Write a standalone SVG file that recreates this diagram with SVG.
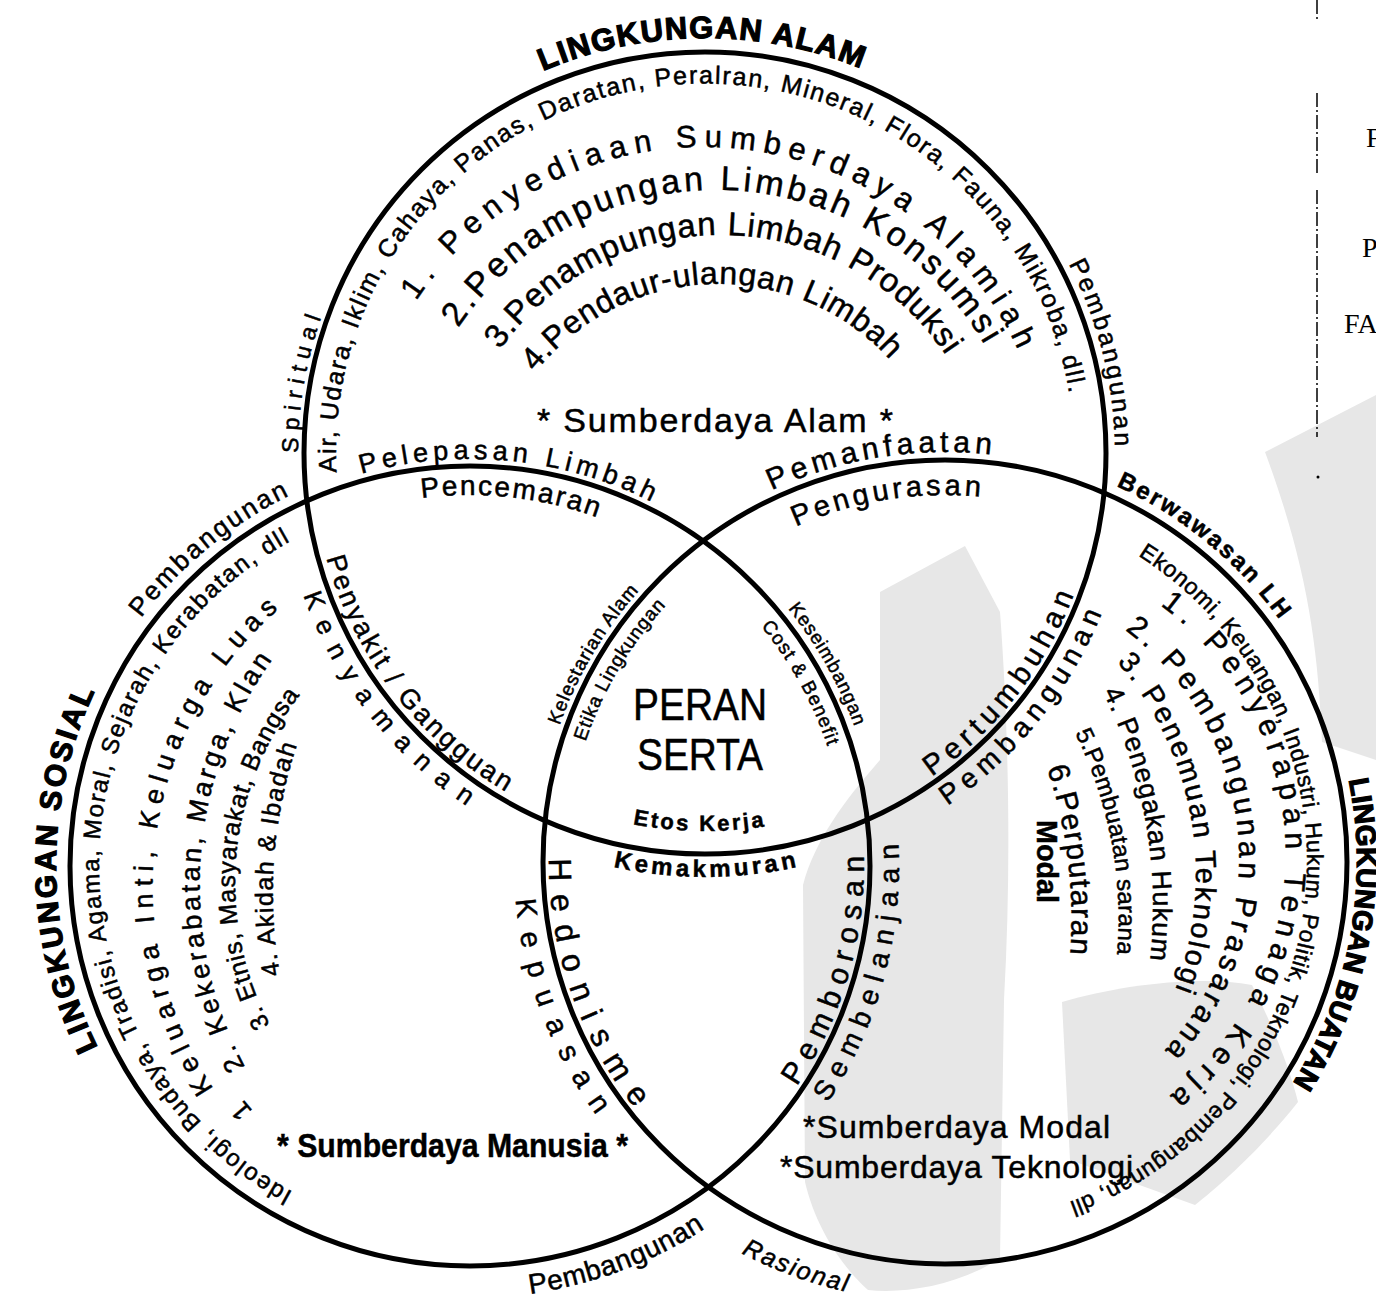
<svg xmlns="http://www.w3.org/2000/svg" width="1376" height="1302" viewBox="0 0 1376 1302">
<style>
.c{fill:none;stroke:#000;stroke-width:5}
.wm{fill:#e7e7e7;stroke:none}
text{font-family:"Liberation Sans",Arial,sans-serif;fill:#000;stroke:#000;stroke-width:0.5}
.b{font-weight:bold}
.h{stroke-width:1.2}
.i{font-style:italic}
.s{font-family:"Liberation Serif","Times New Roman",serif;stroke-width:0}
</style>
<defs>
<path id="p-alam-title" d="M542.9,71.0 A415,415 0 0 1 860.5,68.2"/>
<path id="p-alam-list" d="M336.5,472.3 A369,369 0 0 1 1069.2,393.4"/>
<path id="p-alam-r1" d="M416.1,301.1 A345,345 0 0 1 1017.9,350.0"/>
<path id="p-alam-r2" d="M458.1,328.0 A310,310 0 0 1 984.5,345.0"/>
<path id="p-alam-r3" d="M500.1,349.8 A270,270 0 0 1 945.4,354.8"/>
<path id="p-alam-r4" d="M535.4,372.3 A233,233 0 0 1 890.1,359.9"/>
<path id="p-pemb-r" d="M1068.7,263.7 A410,410 0 0 1 1114.9,445.8"/>
<path id="p-berwawasan" d="M1116.3,486.2 A413,413 0 0 1 1279.1,619.2"/>
<path id="p-spiritual" d="M298,453 A407,407 0 0 1 321.4,317.1"/>
<path id="p-pelepasan" d="M361.2,473.8 A407,407 0 0 1 651.6,501.8"/>
<path id="p-pencemaran" d="M421.6,498.2 A371,371 0 0 1 596.9,517.4"/>
<path id="p-pemanfaatan" d="M771.7,490.4 A410,410 0 0 1 991.4,454.6"/>
<path id="p-pengurasan" d="M795.7,526.7 A367,367 0 0 1 980.2,496.7"/>
<path id="p-penyakit" d="M326.3,558.0 A393,393 0 0 0 505.5,791.6"/>
<path id="p-kenyamanan" d="M303.4,595.2 A426,426 0 0 0 466.8,806.2"/>
<path id="p-kelestarian" d="M559.5,725.5 A409,409 0 0 1 638.7,591.0"/>
<path id="p-etika" d="M585.6,741.7 A379,379 0 0 1 665.6,606.0"/>
<path id="p-keseimbangan" d="M787.9,608.6 A409,409 0 0 1 854.3,726.1"/>
<path id="p-cost" d="M760.9,626.2 A377,377 0 0 1 827.5,746.4"/>
<path id="p-etos" d="M632.9,824.1 A378,378 0 0 0 764.1,826.4"/>
<path id="p-kemakmuran" d="M613.2,866.9 A424,424 0 0 0 796.8,866.9"/>
<path id="p-hedonisme" d="M549.0,858.5 A396,396 0 0 0 635.1,1108.5"/>
<path id="p-kepuasan" d="M515.6,899.6 A431,431 0 0 0 596.3,1115.3"/>
<path id="p-pemborosan" d="M796.6,1086.3 A394,394 0 0 0 863.9,855.7"/>
<path id="p-sembelanjaan" d="M827.7,1102.8 A429,429 0 0 0 898.4,843.5"/>
<path id="p-pertumbuhan" d="M931.6,776.6 A395,395 0 0 0 1073.8,594.6"/>
<path id="p-pemb-lr" d="M947.4,805.7 A428,428 0 0 0 1101.8,613.3"/>
<path id="p-ekonomi" d="M1137.9,555.7 A362,362 0 0 1 1068.8,1202.2"/>
<path id="p-buatan-r1" d="M1160.2,605.1 A309.6,309.6 0 0 1 1170.0,1095.3"/>
<path id="p-buatan-r2" d="M1125,630 A285.3,285.3 0 0 1 1165,1050"/>
<path id="p-buatan-r3" d="M1117,662 A326.5,326.5 0 0 1 1175,990"/>
<path id="p-buatan-r4" d="M1103,692 A481,481 0 0 1 1150,960"/>
<path id="p-buatan-r5" d="M1075,733 A415.6,415.6 0 0 1 1117,955"/>
<path id="p-buatan-r6" d="M1047,768 A468,468 0 0 1 1070,955"/>
<path id="p-sosial-title" d="M97.9,1047.5 A414,414 0 0 1 94.8,691.0"/>
<path id="p-sosial-list" d="M293.0,1192.0 A371,371 0 0 1 290.1,541.5"/>
<path id="p-sosial-r1" d="M213.5,1088.6 A367,367 0 0 1 278.7,609.0"/>
<path id="p-sosial-r2" d="M245,1067 A387,387 0 0 1 272,660"/>
<path id="p-sosial-r3" d="M270,1025 A305.5,305.5 0 0 1 300,695"/>
<path id="p-sosial-r4" d="M280,975 A467,467 0 0 1 297,745"/>
<path id="p-pemb-l" d="M141.0,618.1 A412,412 0 0 1 289.4,495.7"/>
<path id="p-pemb-b" d="M530.1,1293.8 A432,432 0 0 0 705.3,1228.3"/>
<path id="p-rasional" d="M741.4,1253.2 A441,441 0 0 0 845.8,1291.7"/>
<path id="p-buatan-title" d="M1348.7,779.9 A412,412 0 0 1 1292.5,1083.4"/>
</defs>

<g id="watermark">
<path class="wm" d="M1265,452 L1376,395 L1376,760 L1322,742 C1318,640 1305,560 1265,452 Z"/>
<path class="wm" d="M880,592 L965,546 L1000,612 C1008,720 1012,860 1004,1000 L1000,1258 C960,1285 905,1294 868,1290 C840,1265 815,1225 805,1182 L803,885 C815,840 845,800 880,760 Z"/>
<path class="wm" d="M1062,1002 C1120,985 1200,975 1252,985 C1275,1030 1290,1070 1298,1102 C1260,1150 1220,1185 1195,1205 L1070,1160 Z"/>
</g>

<g id="lingkungan-alam">
<circle class="c" cx="705" cy="453" r="401"/>
<text class="b h" font-size="31"><textPath href="#p-alam-title" textLength="326" lengthAdjust="spacing">LINGKUNGAN ALAM</textPath></text>
<text font-size="25"><textPath href="#p-alam-list" textLength="1119" lengthAdjust="spacing">Air, Udara, Iklim, Cahaya, Panas, Daratan, Peralran, Mineral, Flora, Fauna, Mikroba, dll.</textPath></text>
<text font-size="31"><textPath href="#p-alam-r1" textLength="735" lengthAdjust="spacing">1. Penyediaan Sumberdaya Alamiah</textPath></text>
<text font-size="34"><textPath href="#p-alam-r2" textLength="629" lengthAdjust="spacing">2.Penampungan Limbah Konsumsi</textPath></text>
<text font-size="33"><textPath href="#p-alam-r3" textLength="524" lengthAdjust="spacing">3.Penampungan Limbah Produksi</textPath></text>
<text font-size="32"><textPath href="#p-alam-r4" textLength="403" lengthAdjust="spacing">4.Pendaur-ulangan Limbah</textPath></text>
<text x="537" y="432" font-size="34" textLength="356" lengthAdjust="spacing">* Sumberdaya Alam *</text>
<text font-size="25"><textPath href="#p-pemb-r" textLength="190" lengthAdjust="spacing">Pembangunan</textPath></text>
<text font-size="23"><textPath href="#p-spiritual" textLength="138" lengthAdjust="spacing">Spiritual</textPath></text>
</g>

<g id="lingkungan-sosial">
<circle class="c" cx="470" cy="866" r="400"/>
<text class="b h" font-size="30"><textPath href="#p-sosial-title" textLength="368" lengthAdjust="spacing">LINGKUNGAN SOSIAL</textPath></text>
<text font-size="24"><textPath href="#p-sosial-list" textLength="793" lengthAdjust="spacing">Ideologi, Budaya, Tradisi, Agama, Moral, Sejarah, Kerabatan, dll</textPath></text>
<text font-size="27" transform="translate(253,1111) rotate(-130)">1</text>
<text font-size="27"><textPath href="#p-sosial-r1" textLength="528" lengthAdjust="spacing">Keluarga Inti, Keluarga Luas</textPath></text>
<text font-size="27"><textPath href="#p-sosial-r2" textLength="430" lengthAdjust="spacing">2. Kekerabatan, Marga, Klan</textPath></text>
<text font-size="25"><textPath href="#p-sosial-r3" textLength="350" lengthAdjust="spacing">3. Etnis, Masyarakat, Bangsa</textPath></text>
<text font-size="25"><textPath href="#p-sosial-r4" textLength="233" lengthAdjust="spacing">4. Akidah &amp; Ibadah</textPath></text>
<text font-size="26"><textPath href="#p-pemb-l" textLength="194" lengthAdjust="spacing">Pembangunan</textPath></text>
<text class="b" x="277" y="1157" font-size="34" textLength="351" lengthAdjust="spacingAndGlyphs">* Sumberdaya Manusia *</text>
<text font-size="28"><textPath href="#p-pemb-b" textLength="188" lengthAdjust="spacing">Pembangunan</textPath></text>
</g>

<g id="lingkungan-buatan">
<circle class="c" cx="945" cy="862" r="402"/>
<text class="b h" font-size="28"><textPath href="#p-buatan-title" textLength="316" lengthAdjust="spacing">LINGKUNGAN BUATAN</textPath></text>
<text class="b" font-size="24"><textPath href="#p-berwawasan" textLength="213" lengthAdjust="spacing">Berwawasan LH</textPath></text>
<text font-size="23"><textPath href="#p-ekonomi" textLength="807" lengthAdjust="spacing">Ekonomi, Keuangan, Industri, Hukum, Politik, Teknologi, Pembangunan, dll</textPath></text>
<text font-size="30"><textPath href="#p-buatan-r1" textLength="566" lengthAdjust="spacing">1. Penyerapan Tenaga Kerja</textPath></text>
<text font-size="30"><textPath href="#p-buatan-r2" textLength="475" lengthAdjust="spacing">2. Pembangunan Prasarana</textPath></text>
<text font-size="29"><textPath href="#p-buatan-r3" textLength="349" lengthAdjust="spacing">3. Penemuan Teknologi</textPath></text>
<text font-size="27"><textPath href="#p-buatan-r4" textLength="276" lengthAdjust="spacing">4. Penegakan Hukum</textPath></text>
<text font-size="24"><textPath href="#p-buatan-r5" textLength="228" lengthAdjust="spacing">5.Pembuatan sarana</textPath></text>
<text font-size="30"><textPath href="#p-buatan-r6" textLength="189" lengthAdjust="spacing">6.Perputaran</textPath></text>
<text class="b" font-size="30" transform="translate(1037,820) rotate(90)" textLength="83" lengthAdjust="spacingAndGlyphs">Modal</text>
<text x="803" y="1138" font-size="32" textLength="307" lengthAdjust="spacing">*Sumberdaya Modal</text>
<text x="780" y="1178" font-size="32" textLength="353" lengthAdjust="spacing">*Sumberdaya Teknologi</text>
<text class="i" font-size="25"><textPath href="#p-rasional" textLength="112" lengthAdjust="spacing">Rasional</textPath></text>
</g>

<g id="overlaps">
<text font-size="27"><textPath href="#p-pelepasan" textLength="298" lengthAdjust="spacing">Pelepasan Limbah</textPath></text>
<text font-size="28"><textPath href="#p-pencemaran" textLength="178" lengthAdjust="spacing">Pencemaran</textPath></text>
<text font-size="30"><textPath href="#p-pemanfaatan" textLength="225" lengthAdjust="spacing">Pemanfaatan</textPath></text>
<text font-size="29"><textPath href="#p-pengurasan" textLength="189" lengthAdjust="spacing">Pengurasan</textPath></text>
<text font-size="27"><textPath href="#p-penyakit" textLength="302" lengthAdjust="spacing">Penyakit / Gangguan</textPath></text>
<text font-size="26"><textPath href="#p-kenyamanan" textLength="271" lengthAdjust="spacing">Kenyamanan</textPath></text>
<text font-size="32"><textPath href="#p-hedonisme" textLength="269" lengthAdjust="spacing">Hedonisme</textPath></text>
<text font-size="29"><textPath href="#p-kepuasan" textLength="233" lengthAdjust="spacing">Kepuasan</textPath></text>
<text font-size="30"><textPath href="#p-pemborosan" textLength="244" lengthAdjust="spacing">Pemborosan</textPath></text>
<text font-size="28"><textPath href="#p-sembelanjaan" textLength="273" lengthAdjust="spacing">Sembelanjaan</textPath></text>
<text font-size="29"><textPath href="#p-pertumbuhan" textLength="234" lengthAdjust="spacing">Pertumbuhan</textPath></text>
<text font-size="28"><textPath href="#p-pemb-lr" textLength="250" lengthAdjust="spacing">Pembangunan</textPath></text>
</g>

<g id="peran-serta">
<text x="700" y="720" font-size="44" text-anchor="middle" textLength="134" lengthAdjust="spacingAndGlyphs">PERAN</text>
<text x="700" y="770" font-size="44" text-anchor="middle" textLength="126" lengthAdjust="spacingAndGlyphs">SERTA</text>
<text font-size="19"><textPath href="#p-kelestarian" textLength="157" lengthAdjust="spacing">Kelestarian Alam</textPath></text>
<text font-size="19"><textPath href="#p-etika" textLength="159" lengthAdjust="spacing">Etika Lingkungan</textPath></text>
<text font-size="19"><textPath href="#p-keseimbangan" textLength="136" lengthAdjust="spacing">Keseimbangan</textPath></text>
<text font-size="19"><textPath href="#p-cost" textLength="138" lengthAdjust="spacing">Cost &amp; Benefit</textPath></text>
<text class="b" font-size="22"><textPath href="#p-etos" textLength="132" lengthAdjust="spacing">Etos Kerja</textPath></text>
<text class="b" font-size="24"><textPath href="#p-kemakmuran" textLength="185" lengthAdjust="spacing">Kemakmuran</textPath></text>
</g>

<g id="page-edge">
<path d="M1317,0 V20 M1317,93 V173 M1317,190 V437" stroke="#000" stroke-width="1.5" stroke-dasharray="14,3,2,3" fill="none"/>
<circle cx="1318" cy="477" r="1.5" fill="#000"/>
<text class="s" x="1366" y="147" font-size="28">F</text>
<text class="s" x="1362" y="257" font-size="28">P</text>
<text class="s" x="1344" y="333" font-size="28">FA</text>
</g>
</svg>
